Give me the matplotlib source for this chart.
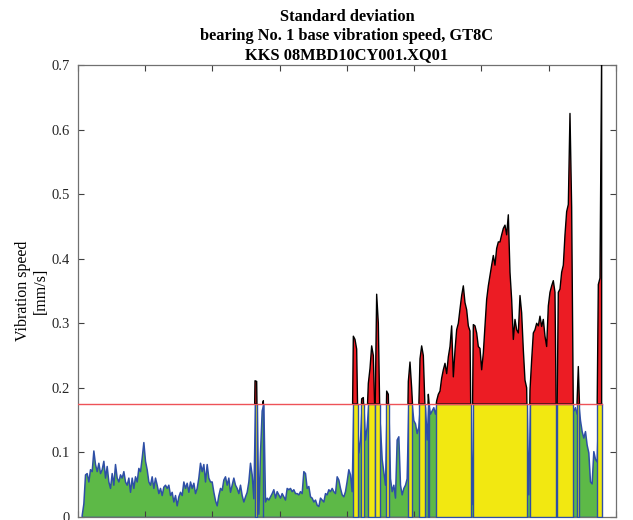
import numpy as np
import matplotlib
matplotlib.use("Agg")
import matplotlib.pyplot as plt

plt.rcParams['font.family'] = ['Liberation Serif', 'DejaVu Serif']

# ---- data ----
threshold = 0.175
x_start, x_end = 0.055, 7.787

seg_a = [0.003, 0.021, 0.066, 0.068, 0.055, 0.074, 0.071, 0.103, 0.082, 0.071,
         0.084, 0.068, 0.074, 0.087, 0.061, 0.079, 0.055, 0.045, 0.068, 0.050,
         0.082, 0.061, 0.055, 0.066, 0.061, 0.071, 0.055, 0.050, 0.061, 0.039,
         0.061, 0.045, 0.063, 0.055, 0.076, 0.071, 0.092, 0.116, 0.087, 0.074,
         0.055, 0.050, 0.063, 0.045, 0.061, 0.050, 0.037, 0.045, 0.034, 0.047,
         0.050, 0.045, 0.050, 0.034, 0.039, 0.024, 0.034, 0.018, 0.032, 0.039,
         0.034, 0.055, 0.045, 0.053, 0.039, 0.055, 0.045, 0.053, 0.037, 0.045,
         0.061, 0.084, 0.071, 0.082, 0.055, 0.082, 0.061, 0.055, 0.055, 0.039,
         0.026, 0.018, 0.034, 0.045, 0.042, 0.058, 0.063, 0.050, 0.061, 0.039,
         0.050, 0.061, 0.050, 0.045, 0.037, 0.050, 0.034, 0.024, 0.032, 0.039,
         0.055, 0.084, 0.066, 0.029]
seg_b = [0.211, 0.210, 0.005, 0.100, 0.165, 0.180, 0.024, 0.030, 0.027, 0.032,
         0.037, 0.043, 0.030, 0.040, 0.035, 0.030, 0.037, 0.032, 0.027, 0.045,
         0.043, 0.045, 0.040, 0.043, 0.037, 0.037, 0.035, 0.040, 0.037, 0.071,
         0.068, 0.045, 0.048, 0.032, 0.030, 0.024, 0.027, 0.019, 0.017, 0.030,
         0.027, 0.024, 0.037, 0.035, 0.043, 0.040, 0.045, 0.040, 0.037, 0.063,
         0.058, 0.045, 0.035, 0.032, 0.040, 0.056, 0.074, 0.066, 0.040]
seg_c = [0.280, 0.275, 0.260, 0.100, 0.120, 0.183, 0.185, 0.120, 0.140, 0.207,
         0.230, 0.265, 0.250, 0.150, 0.345, 0.300, 0.140, 0.090, 0.070, 0.050,
         0.195, 0.190, 0.060, 0.040, 0.050, 0.030, 0.120, 0.125, 0.050, 0.035,
         0.045, 0.050, 0.060, 0.210, 0.240, 0.200, 0.150, 0.145, 0.130, 0.140]
seg_d = [0.245, 0.265, 0.250, 0.170, 0.120, 0.190, 0.160, 0.165, 0.170, 0.160,
         0.180, 0.190, 0.195, 0.215, 0.228, 0.238, 0.222, 0.248, 0.264, 0.296,
         0.217, 0.258, 0.290, 0.300, 0.322, 0.343, 0.358, 0.332, 0.321, 0.296,
         0.288, 0.020, 0.298, 0.296, 0.285, 0.264, 0.261, 0.228, 0.254, 0.296,
         0.337, 0.358, 0.374, 0.390, 0.405, 0.390, 0.416, 0.426, 0.426, 0.437,
         0.447, 0.452, 0.437, 0.468, 0.379, 0.337, 0.275, 0.306, 0.290, 0.285,
         0.343, 0.316, 0.259, 0.212, 0.200, 0.035, 0.196, 0.243, 0.285, 0.290,
         0.300, 0.296]
seg_e = [0.311, 0.295, 0.306, 0.280, 0.264, 0.327, 0.348, 0.358, 0.366, 0.348,
         0.100, 0.348, 0.353, 0.379, 0.390, 0.437, 0.473, 0.484, 0.625, 0.480,
         0.165, 0.170, 0.160, 0.233, 0.150, 0.133, 0.123, 0.133, 0.112, 0.100,
         0.055, 0.052, 0.102, 0.090, 0.086, 0.360, 0.370, 0.720]

values = np.array(seg_a + seg_b + seg_c + seg_d + seg_e)
x = np.linspace(x_start, x_end, len(values))

x_ticks = list(range(0, 9))
y_ticks = [0, 0.1, 0.2, 0.3, 0.4, 0.5, 0.6, 0.7]
y_tick_labels = ['0', '0.1', '0.2', '0.3', '0.4', '0.5', '0.6', '0.7']
title = "Standard deviation\nbearing No. 1 base vibration speed, GT8C\nKKS 08MBD10CY001.XQ01"
ylabel = "Vibration speed\n[mm/s]"

GREEN = '#5DB947'
BLUE = '#2E4FA6'
YELLOW = '#F2E811'
RED = '#EC1C24'
THR = '#EE5258'

fig = plt.figure(figsize=(6.33, 5.20), dpi=100)
ax = fig.add_axes([0.1232, 0.0058, 0.8499, 0.8692])

# green area (values below threshold, capped)
low = np.minimum(values, threshold)
ax.fill_between(x, 0, low, facecolor=GREEN, edgecolor=BLUE, linewidth=1.1, zorder=1)

# yellow bars where value exceeds threshold
above = values > threshold
i = 0
n = len(values)
while i < n:
    if above[i]:
        j = i
        while j + 1 < n and above[j + 1]:
            j += 1
        if i > 0:
            xa = x[i - 1] + (threshold - values[i - 1]) / (values[i] - values[i - 1]) * (x[i] - x[i - 1])
        else:
            xa = x[0]
        if j < n - 1:
            xb = x[j] + (values[j] - threshold) / (values[j] - values[j + 1]) * (x[j + 1] - x[j])
        else:
            xb = x[-1]
        ax.fill_between([xa, xb], 0, threshold, facecolor=YELLOW, edgecolor=BLUE,
                        linewidth=1.0, zorder=3)
        i = j + 1
    else:
        i += 1

# red area above threshold
ax.fill_between(x, threshold, values, where=above, interpolate=True,
                facecolor=RED, edgecolor='black', linewidth=1.0, zorder=4)

# threshold line
ax.plot([0, x[-1]], [threshold, threshold], color=THR, linewidth=1.0, zorder=5)

ax.set_xlim(0, 8)
ax.set_ylim(0, 0.7)
ax.set_xticks(x_ticks)
ax.set_xticklabels([])
ax.set_yticks(y_ticks)
ax.set_yticklabels(y_tick_labels)
ax.tick_params(direction='in', top=True, right=True, length=4, width=0.8,
               labelsize=10.5, colors='#404040', labelcolor='#262626', pad=6)
for s in ax.spines.values():
    s.set_color('#707070')
    s.set_linewidth(0.9)

ax.set_title(title, fontsize=11.8, fontweight='bold', linespacing=1.25, pad=4)
ax.set_ylabel(ylabel, fontsize=11.5, linespacing=1.1, labelpad=2)

fig.savefig('out.png', dpi=100)
